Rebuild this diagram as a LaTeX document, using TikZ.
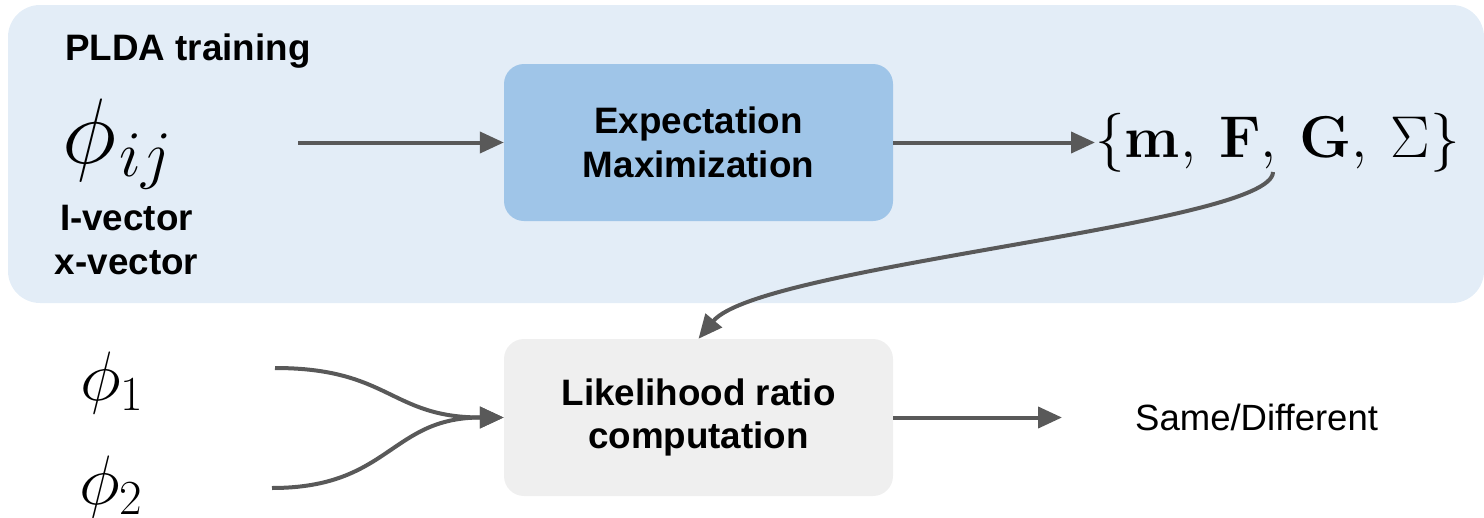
\RequirePackage{fix-cm}
\documentclass[tikz,border=0pt]{standalone}
\usepackage[no-math]{fontspec}
\setmainfont{Liberation Sans}
\usetikzlibrary{arrows.meta}

\definecolor{panelblue}{HTML}{E3EDF7}
\definecolor{emblue}{HTML}{9FC5E8}
\definecolor{lrgray}{HTML}{EFEFEF}
\definecolor{wire}{HTML}{595959}

\tikzset{
  plain/.style={inner sep=0pt, font=\fontsize{36.5}{44}\selectfont},
  boldtext/.style={inner sep=0pt, font=\fontsize{36.8}{44}\selectfont\bfseries},
  mathbig/.style={inner sep=0pt, anchor=base west, font=\fontsize{#1}{#1}\selectfont},
  procbox/.style={rounded corners=20pt, minimum width=389pt, minimum height=157pt,
    align=center, inner sep=0pt, font=\fontsize{36.8}{43.5}\selectfont\bfseries},
  link/.style={draw=wire, line width=4pt, -{Triangle[length=24pt,width=21pt]}},
}

\begin{document}
\begin{tikzpicture}[x=1pt,y=-1pt]
\useasboundingbox (0,0) rectangle (1484,517);

% training panel
\fill[panelblue, rounded corners=32pt] (8,5) rectangle (1484,303);
\node[boldtext, anchor=base west] (title) at (65,60) {PLDA training};
\node[mathbig=93] (phiij) at (62,163) {$\phi_{\mkern1mu ij}$};
\node[boldtext, align=center, anchor=north] (vec) at (126.5,205) {I-vector\\x-vector};

% blocks
\node[procbox, fill=emblue] (em) at (698.5,142.5) {Expectation\\Maximization};
\node[procbox, fill=lrgray] (lr) at (698.5,417.5) {Likelihood ratio\\computation};

% model parameters
\node[mathbig=59] (params) at (1095,157) {$\{\mathbf{m},\:\mathbf{F},\:\mathbf{G},\:\Sigma\}$};

% scoring inputs and output
\node[mathbig=70] (phi1) at (80,400) {$\phi_1$};
\node[mathbig=70] (phi2) at (79,504) {$\phi_2$};
\node[plain, anchor=west] (verdict) at (1135,417.5) {Same/Different};

% connector ends
\coordinate (featin) at (298,142.5);
\coordinate (paramsout) at (1273,172);
\coordinate (p1out) at (275,368);
\coordinate (p2out) at (272,488);
\coordinate (verdictin) at (1062,417.5);

% connectors
\draw[link] (featin) -- (em.west);
\draw[link] (em.east) -- (em.east -| params.west);
\draw[link] (paramsout) .. controls (1273,225) and (760,265) .. (lr.north);
\draw[link] (p1out) .. controls (390,368) and (390,417.5) .. (lr.west);
\draw[link] (p2out) .. controls (390,488) and (390,417.5) .. (lr.west);
\draw[link] (lr.east) -- (verdictin);
\end{tikzpicture}
\end{document}
